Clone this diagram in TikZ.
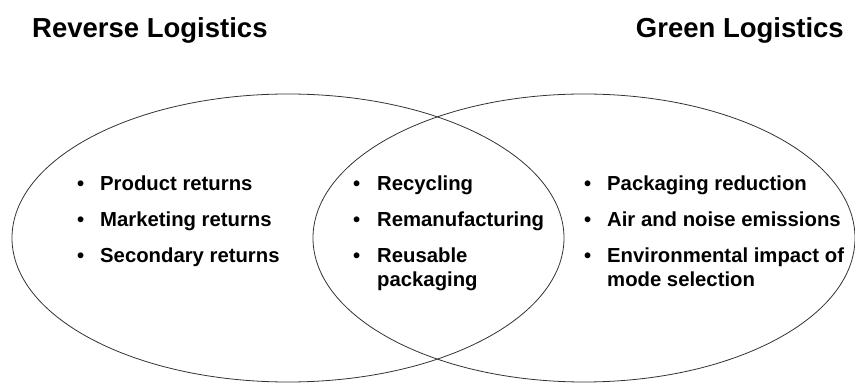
\documentclass[tikz,border=0pt]{standalone}
\usepackage{fontspec}
\setmainfont{Liberation Sans}
\newcommand{\bul}[1]{\makebox[#1][l]{\textbullet}}
\newcommand{\twoline}[2]{\begin{tabular}[t]{@{}l@{}}#1\\#2\end{tabular}}
\begin{document}
\begin{tikzpicture}[x=1pt, y=1pt, line join=round, line cap=round,
    ring/.style={black!80, line width=.8pt},
    ttl/.style={font=\fontsize{27.5}{33}\selectfont\bfseries, inner sep=0, anchor=base west},
    itm/.style={font=\fontsize{20.3}{24}\selectfont\bfseries, inner sep=0, anchor=base west}]
    \useasboundingbox (0,0) rectangle (855,383);
    % the two sets
    \draw[ring] (288,145) ellipse[x radius=276, y radius=144];
    \draw[ring] (584,145) ellipse[x radius=271, y radius=144];
    % headings
    \node[ttl] (rl) at (32,345) {Reverse Logistics};
    \node[ttl, anchor=base east] (gl) at (844,345) {Green Logistics};
    % bullet lists
    \foreach \t [count=\i] in {Product returns, Marketing returns, Secondary returns}
    \node[itm] (rv\i) at (77,192-36*\i+36) {\bul{23pt}\t};
    \foreach \t [count=\i] in {Recycling, Remanufacturing, {\twoline{Reusable}{packaging}}}
    \node[itm] (bo\i) at (353,192-36*\i+36) {\bul{24pt}\t};
    \foreach \t [count=\i] in {Packaging reduction, Air and noise emissions, {\twoline{Environmental impact of}{mode selection}}}
    \node[itm] (gr\i) at (584,192-36*\i+36) {\bul{23pt}\t};
\end{tikzpicture}
\end{document}
